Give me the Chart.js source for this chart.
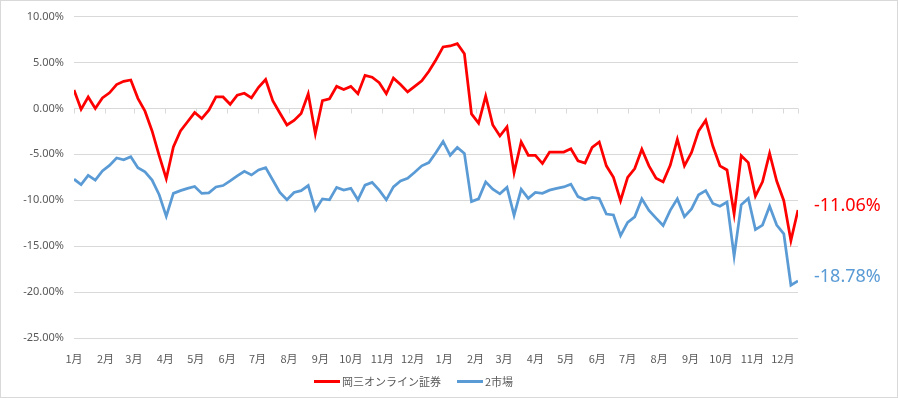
<!DOCTYPE html>
<html>
<head>
<meta charset="utf-8">
<script src="https://cdn.jsdelivr.net/npm/chart.js@4.4.1/dist/chart.umd.min.js"></script>
<style>
  body { margin: 0; background: #fff; }
  #wrap {
    position: relative; width: 898px; height: 398px; background: #fff;
    box-shadow: inset 0 0 0 1px #d9d9d9;
  }
  #legend {
    position: absolute; top: 373px; left: 314px;
    display: flex; align-items: center;
    font: 11px "Noto Sans CJK JP", sans-serif; color: #595959;
  }
  #legend .item { display: flex; align-items: center; margin-right: 16px; }
  #legend .swatch { display: inline-block; width: 26px; height: 3px; margin-right: 2px; }
</style>
</head>
<body>
<div id="wrap">
  <canvas id="chart"></canvas>
  <div id="legend"></div>
</div>
<script>
// ===== data =====
// weekly points, x in days from the first week
const seriesNames = ['岡三オンライン証券', '2市場'];
const seriesColors = ['#ff0000', '#5b9bd5'];

const okasanValues = [
  2.0, -0.1, 1.25, 0.0, 1.15, 1.7, 2.6, 2.95, 3.1, 1.1,
  -0.3, -2.45, -5.15, -7.65, -4.2, -2.45, -1.45, -0.45, -1.1, -0.2,
  1.25, 1.25, 0.45, 1.45, 1.65, 1.15, 2.3, 3.15, 0.85, -0.5,
  -1.8, -1.3, -0.55, 1.6, -2.75, 0.85, 1.05, 2.4, 2.05, 2.4,
  1.6, 3.6, 3.4, 2.8, 1.6, 3.3, 2.6, 1.8, 2.4, 3.0,
  4.05, 5.3, 6.7, 6.8, 7.05, 5.95, -0.6, -1.6, 1.35, -1.8,
  -3.0, -2.0, -7.0, -3.65, -5.1, -5.1, -6.0, -4.75, -4.75, -4.75,
  -4.4, -5.7, -5.95, -4.25, -3.65, -6.25, -7.5, -10.05, -7.5, -6.55,
  -4.45, -6.25, -7.6, -8.0, -6.2, -3.35, -6.25, -4.8, -2.45, -1.3,
  -4.1, -6.25, -6.7, -11.5, -5.15, -5.9, -9.55, -8.0, -4.9, -7.9,
  -10.05, -14.4, -11.06
];

const marketValues = [
  -7.7, -8.3, -7.3, -7.8, -6.8, -6.2, -5.4, -5.6, -5.25, -6.45,
  -6.9, -7.8, -9.4, -11.75, -9.25, -8.95, -8.7, -8.5, -9.25, -9.2,
  -8.55, -8.4, -7.9, -7.35, -6.85, -7.25, -6.7, -6.45, -7.8, -9.15,
  -9.95, -9.15, -8.95, -8.4, -11.05, -9.85, -9.95, -8.6, -8.9, -8.7,
  -9.95, -8.35, -8.05, -8.9, -9.95, -8.55, -7.9, -7.6, -6.95, -6.25,
  -5.9, -4.8, -3.6, -5.1, -4.25, -4.9, -10.15, -9.85, -8.0, -8.8,
  -9.3, -8.6, -11.65, -8.8, -9.8, -9.15, -9.25, -8.9, -8.7, -8.55,
  -8.25, -9.6, -9.95, -9.7, -9.8, -11.5, -11.6, -13.85, -12.4, -11.8,
  -9.85, -11.1, -11.95, -12.75, -11.1, -9.85, -11.8, -10.95, -9.4, -8.95,
  -10.35, -10.65, -10.2, -16.1, -10.5, -9.8, -13.2, -12.7, -10.65, -12.7,
  -13.65, -19.25, -18.78
];

// month starts (days from first point) and their labels
const monthStartDays = [0, 31, 59, 90, 120, 151, 181, 212, 243, 273, 304, 334,
  365, 396, 424, 455, 485, 516, 546, 577, 608, 638, 669, 699];
const monthLabels = ['1月', '2月', '3月', '4月', '5月', '6月', '7月', '8月', '9月', '10月', '11月', '12月',
  '1月', '2月', '3月', '4月', '5月', '6月', '7月', '8月', '9月', '10月', '11月', '12月'];

const yTicks = [10, 5, 0, -5, -10, -15, -20, -25];

const weekDay = okasanValues.map((_, i) => i * 7);
const lastDay = weekDay[weekDay.length - 1];

const textColor = '#595959';
const gridColor = '#d9d9d9';
const numFont = '"Noto Sans", sans-serif';
const jpFont = '"Noto Sans CJK JP", sans-serif';

// legend
const legendEl = document.getElementById('legend');
seriesNames.forEach((name, i) => {
  const item = document.createElement('div');
  item.className = 'item';
  item.innerHTML = `<span class="swatch" style="background:${seriesColors[i]}"></span><span>${name}</span>`;
  legendEl.appendChild(item);
});

// tick marks on the 0 line + end value labels
const extras = {
  id: 'extras',
  beforeDatasetsDraw(chart) {
    const { ctx, scales: { x, y } } = chart;
    const y0 = Math.round(y.getPixelForValue(0)) + 0.5;
    ctx.save();
    ctx.strokeStyle = gridColor;
    ctx.lineWidth = 1;
    ctx.beginPath();
    [...monthStartDays, lastDay].forEach(d => {
      const px = Math.round(x.getPixelForValue(d)) + 0.5;
      ctx.moveTo(px, y0);
      ctx.lineTo(px, y0 + 5);
    });
    ctx.stroke();
    ctx.restore();
  },
  afterDatasetsDraw(chart) {
    const { ctx } = chart;
    ctx.save();
    ctx.font = `18px ${numFont}`;
    ctx.textBaseline = 'middle';
    chart.data.datasets.forEach((ds, i) => {
      const meta = chart.getDatasetMeta(i);
      const pt = meta.data[meta.data.length - 1];
      const v = ds.data[ds.data.length - 1].y;
      ctx.fillStyle = seriesColors[i];
      ctx.fillText(v.toFixed(2) + '%', pt.x + 16, pt.y - 4);
    });
    ctx.restore();
  }
};

const ctx = document.getElementById('chart').getContext('2d');
new Chart(ctx, {
  type: 'line',
  data: {
    datasets: [okasanValues, marketValues].map((vals, i) => ({
      label: seriesNames[i],
      data: vals.map((v, j) => ({ x: weekDay[j], y: v })),
      borderColor: seriesColors[i],
      borderWidth: 2.75,
      pointRadius: 0,
      tension: 0,
      fill: false
    }))
  },
  options: {
    responsive: true,
    maintainAspectRatio: false,
    devicePixelRatio: 1,
    animation: false,
    layout: { padding: { left: 0, right: 100, top: 15, bottom: 0 } },
    plugins: { legend: { display: false }, tooltip: { enabled: false } },
    scales: {
      x: {
        type: 'linear',
        min: 0,
        max: lastDay,
        grid: { display: false },
        border: { display: false },
        afterBuildTicks: s => { s.ticks = monthStartDays.map(v => ({ value: v })); },
        afterFit: s => { s.height = 60; },
        ticks: {
          autoSkip: false,
          maxRotation: 0,
          padding: 6,
          color: textColor,
          font: { family: jpFont, size: 11 },
          callback: v => monthLabels[monthStartDays.indexOf(v)]
        }
      },
      y: {
        min: -25,
        max: 10,
        afterBuildTicks: s => { s.ticks = yTicks.map(v => ({ value: v })); },
        afterFit: s => { s.width = 74; },
        grid: { color: gridColor, drawTicks: false },
        border: { display: false },
        ticks: {
          padding: 10,
          color: textColor,
          font: { family: numFont, size: 11 },
          callback: v => v.toFixed(2) + '%'
        }
      }
    }
  },
  plugins: [extras]
});
</script>
</body>
</html>
